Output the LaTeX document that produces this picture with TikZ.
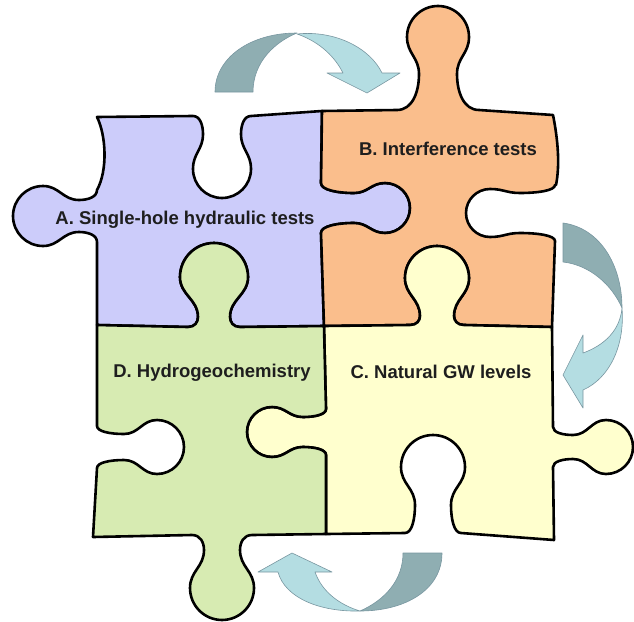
\documentclass[tikz,border=0pt]{standalone}
\usepackage{fontspec}
\setmainfont{Liberation Sans}
\definecolor{pA}{RGB}{204,204,250}
\definecolor{pB}{RGB}{250,190,140}
\definecolor{pC}{RGB}{255,255,206}
\definecolor{pD}{RGB}{215,235,178}
\definecolor{arD}{RGB}{143,174,178}
\definecolor{arL}{RGB}{180,221,226}
\definecolor{arO}{RGB}{120,150,160}
\definecolor{txt}{RGB}{30,30,30}
\tikzset{
  kt/.style n args={4}{shift={(#1,#2)},rotate=#3,yscale=#4},
  piece/.style={draw=black,line width=2.6pt,line join=round},
  arrowdark/.style={fill=arD,draw=arO,line width=0.6pt,line join=round},
  arrowlight/.style={fill=arL,draw=arO,line width=0.6pt,line join=round},
  label/.style={font=\fontsize{18.5}{20}\selectfont\bfseries,text=txt,anchor=base,inner sep=0pt}
}
\newcommand\pzknob[8]{%
 -- ([kt={#1}{#2}{#3}{#4}]{-#5-#8},0)
 .. controls ([kt={#1}{#2}{#3}{#4}]{-#5-0.3*#8},0)
 and ([kt={#1}{#2}{#3}{#4}]{-#5},{0.5*#6-0.5*#7-3})
 .. ([kt={#1}{#2}{#3}{#4}]{-#5},{#6-#7-6})
 .. controls ([kt={#1}{#2}{#3}{#4}]{-#5},{#6-0.55*#7-3.3})
 and ([kt={#1}{#2}{#3}{#4}]{-#7},{#6-0.45*#7-2.7})
 .. ([kt={#1}{#2}{#3}{#4}]{-#7},{#6})
 .. controls ([kt={#1}{#2}{#3}{#4}]{-#7},{#6+0.552*#7})
 and ([kt={#1}{#2}{#3}{#4}]{-0.552*#7},{#6+#7})
 .. ([kt={#1}{#2}{#3}{#4}]0,{#6+#7})
 .. controls ([kt={#1}{#2}{#3}{#4}]{0.552*#7},{#6+#7})
 and ([kt={#1}{#2}{#3}{#4}]{#7},{#6+0.552*#7})
 .. ([kt={#1}{#2}{#3}{#4}]{#7},{#6})
 .. controls ([kt={#1}{#2}{#3}{#4}]{#7},{#6-0.45*#7-2.7})
 and ([kt={#1}{#2}{#3}{#4}]{#5},{#6-0.55*#7-3.3})
 .. ([kt={#1}{#2}{#3}{#4}]{#5},{#6-#7-6})
 .. controls ([kt={#1}{#2}{#3}{#4}]{#5},{0.5*#6-0.5*#7-3})
 and ([kt={#1}{#2}{#3}{#4}]{#5+0.3*#8},0)
 .. ([kt={#1}{#2}{#3}{#4}]{#5+#8},0)
}
\begin{document}
\begin{tikzpicture}[x=1pt,y=-1pt]
\useasboundingbox (0,0) rectangle (634,621);
% arrows
\path[arrowdark] (215,92) .. controls (215,58) and (250,33) .. (297,33)
  .. controls (275,42) and (253,62) .. (253,92) -- cycle;
\path[arrowlight] (297,34) .. controls (335,30) and (370,48) .. (382,73)
  -- (400,73) -- (367,93) -- (327,73) -- (343,73)
  .. controls (333,53) and (315,40) .. (297,34) -- cycle;
\path[arrowdark] (563,223) .. controls (600,228) and (622,265) .. (622,308)
  .. controls (612,285) and (590,265) .. (563,262) -- cycle;
\path[arrowlight] (622,308) .. controls (625,345) and (610,378) .. (583,390)
  -- (583,408) -- (563,375) -- (583,335) -- (583,353)
  .. controls (605,345) and (620,330) .. (622,308) -- cycle;
\path[arrowdark] (442,553) .. controls (442,590) and (405,611) .. (360,611)
  .. controls (385,600) and (403,580) .. (403,553) -- cycle;
\path[arrowlight] (360,611) .. controls (320,612) and (285,598) .. (278,572)
  -- (258,572) -- (292,553) -- (332,572) -- (315,572)
  .. controls (322,592) and (340,605) .. (360,611) -- cycle;
% pieces
\path[piece,fill=pA] (97,117) \pzknob{222}{116}{0}{1}{19}{53}{29}{10}
  -- (322,111) \pzknob{321}{208}{-90}{-1}{15}{64}{25}{10}
  -- (324,326) \pzknob{214}{327}{180}{1}{16}{50}{34}{10}
  -- (97,325) \pzknob{97}{216}{90}{-1}{16}{54}{30}{10}
  .. controls (108,170) and (106,135) .. (97,117) -- cycle;
\path[piece,fill=pB] (322,111) \pzknob{438}{110}{0}{-1}{19}{73}{31}{22}
  -- (553,115) .. controls (558,140) and (560,165) .. (556,185)
  \pzknob{555}{213}{-90}{1}{20}{65}{24}{8}
  -- (552,327) \pzknob{437}{325}{180}{1}{17}{47}{32}{10}
  -- (324,326) \pzknob{321}{208}{90}{1}{15}{64}{25}{10} -- cycle;
\path[piece,fill=pC] (324,326) \pzknob{437}{325}{0}{-1}{17}{47}{32}{10}
  -- (552,327) \pzknob{553}{447}{-90}{-1}{12}{53}{27}{8}
  -- (554,540) \pzknob{433}{533}{180}{1}{18}{66}{32}{10}
  -- (326,534) \pzknob{326}{432}{90}{-1}{15}{54}{25}{8} -- cycle;
\path[piece,fill=pD] (97,325) \pzknob{214}{327}{0}{-1}{16}{50}{34}{10}
  -- (324,326) \pzknob{326}{432}{-90}{1}{15}{54}{25}{8}
  -- (326,534) \pzknob{222}{535}{180}{-1}{18}{53}{32}{12}
  -- (93,537) \pzknob{97}{447}{90}{1}{13}{60}{27}{8} -- cycle;
% labels
\node[label] (la) at (185,224) {A. Single-hole hydraulic tests};
\node[label] (lb) at (448,155) {B. Interference tests};
\node[label] (lc) at (441,378) {C. Natural GW levels};
\node[label] (ld) at (212,377) {D. Hydrogeochemistry};
\end{tikzpicture}
\end{document}
